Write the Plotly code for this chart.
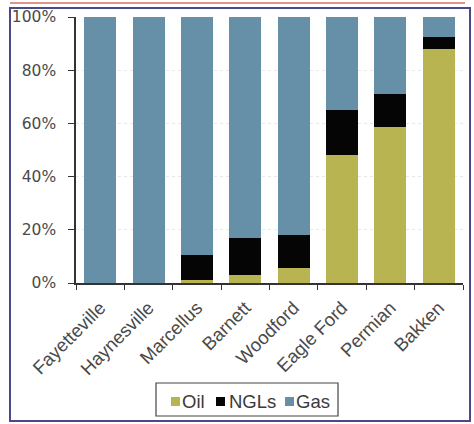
import plotly.graph_objects as go

plays = ["Fayetteville", "Haynesville", "Marcellus", "Barnett", "Woodford",
         "Eagle Ford", "Permian", "Bakken"]
oil = [0, 0, 1, 3, 5.5, 48, 58.5, 88]
ngls = [0, 0, 9.5, 14, 12.5, 17, 12.5, 4.5]
gas = [100, 100, 89.5, 83, 82, 35, 29, 7.5]
y_ticks = [0, 20, 40, 60, 80, 100]
y_tick_text = ["0%", "20%", "40%", "60%", "80%", "100%"]
series_names = ["Oil", "NGLs", "Gas"]
series_colors = ["#B8B452", "#050505", "#6690A8"]

fig = go.Figure()
for name, vals, col in zip(series_names, [oil, ngls, gas], series_colors):
    fig.add_bar(x=plays, y=vals, name=name, marker=dict(color=col, line=dict(width=0)))

W, H = 474, 424
L, R, T, B = 76, 11, 17, 141
pw, ph = W - L - R, H - T - B

def px(x):
    return (x - L) / pw

def py(y):
    return (H - B - y) / ph

shapes = [
    dict(type="rect", xref="paper", yref="paper",
         x0=px(10), x1=px(470), y0=py(421), y1=py(8),
         line=dict(color="#4a4a8a", width=2), fillcolor="rgba(0,0,0,0)", layer="below"),
    dict(type="line", xref="paper", yref="paper",
         x0=px(10), x1=px(465), y0=py(3), y1=py(3),
         line=dict(color="#d87060", width=1.5)),
    # legend box
    dict(type="rect", xref="paper", yref="paper",
         x0=px(156), x1=px(338), y0=py(416), y1=py(383),
         line=dict(color="#444444", width=1.2), fillcolor="white"),
]
annotations = []
sq_x = [171, 216, 285]
txt_x = [180, 227, 294]
for name, col, sx, tx in zip(series_names, series_colors, sq_x, txt_x):
    shapes.append(dict(type="rect", xref="paper", yref="paper",
                       x0=px(sx), x1=px(sx + 9), y0=py(406), y1=py(397),
                       line=dict(width=0), fillcolor=col))
    annotations.append(dict(xref="paper", yref="paper", x=px(tx), y=py(401),
                            xanchor="left", yanchor="middle", text=name, showarrow=False,
                            font=dict(size=18.5, color="#3a3a3a")))

fig.update_layout(
    width=W, height=H,
    margin=dict(l=L, r=R, t=T, b=B, autoexpand=False),
    barmode="stack",
    bargap=0.34,
    paper_bgcolor="white",
    plot_bgcolor="white",
    font=dict(family="Liberation Sans, Arial, sans-serif", size=16, color="#505050"),
    showlegend=False,
    xaxis=dict(
        type="category", tickangle=-45, showline=True, linecolor="#333333",
        linewidth=1.5, ticks="outside", tickson="boundaries", ticklen=5,
        tickcolor="#333333", showgrid=False, tickfont=dict(size=18.5, color="#4a4a4a"),
        ticklabelstandoff=5, automargin=False,
    ),
    yaxis=dict(
        range=[0, 100], tickvals=y_ticks, ticktext=y_tick_text,
        showline=True, linecolor="#333333", linewidth=1.5, ticks="outside",
        ticklen=6, tickcolor="#333333", showgrid=True, gridcolor="#e8e8e8",
        griddash="dot", gridwidth=1, zeroline=False,
        tickfont=dict(family="DejaVu Sans, sans-serif", size=15.5, color="#4a4a4a"),
        ticklabelstandoff=9, automargin=False,
    ),
    shapes=shapes,
    annotations=annotations,
)

fig.write_html("out.html")
